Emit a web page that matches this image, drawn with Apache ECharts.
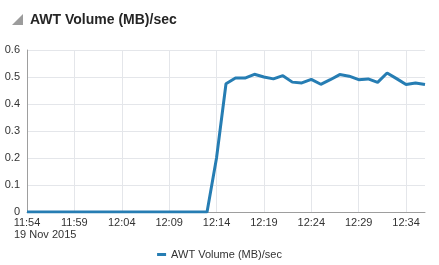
<!DOCTYPE html>
<html>
<head>
<meta charset="utf-8">
<script src="https://cdn.jsdelivr.net/npm/echarts@6/dist/echarts.min.js"></script>
<style>
html,body{margin:0;padding:0;background:#fff;}
#chart{width:439px;height:265px;}
</style>
</head>
<body>
<div id="chart"></div>
<script>
const chartTitle = 'AWT Volume (MB)/sec';
const seriesName = 'AWT Volume (MB)/sec';
const dateLabel = '19 Nov 2015';
const times = [
  '11:54','11:55','11:56','11:57','11:58','11:59','12:00','12:01','12:02','12:03',
  '12:04','12:05','12:06','12:07','12:08','12:09','12:10','12:11','12:12','12:13',
  '12:14','12:15','12:16','12:17','12:18','12:19','12:20','12:21','12:22','12:23',
  '12:24','12:25','12:26','12:27','12:28','12:29','12:30','12:31','12:32','12:33',
  '12:34','12:35','12:36'
];
const volume = [
  0,0,0,0,0,0,0,0,0,0,
  0,0,0,0,0,0,0,0,0,0,
  0.2,0.475,0.496,0.496,0.51,0.5,0.493,0.505,0.481,0.478,
  0.491,0.473,0.49,0.509,0.503,0.49,0.493,0.48,0.515,0.494,
  0.472,0.478,0.472
];
const yTicks = { min: 0, max: 0.6, interval: 0.1 };

const font = 'Liberation Sans, Arial, sans-serif';
const chart = echarts.init(document.getElementById('chart'), null, {renderer: 'canvas'});
chart.setOption({
  animation: false,
  backgroundColor: '#ffffff',
  textStyle: { fontFamily: font },
  title: {
    text: chartTitle,
    left: 30, top: 13, padding: 0,
    textStyle: { fontFamily: font, fontSize: 14, fontWeight: 'bold', color: '#252525' }
  },
  graphic: [
    { type: 'polygon', shape: { points: [[12,25],[23,25],[23,14]] }, style: { fill: '#9c9c9c' } },
    { type: 'text', left: 14, top: 229, style: { text: dateLabel, font: '11px ' + font, fill: '#333333' } }
  ],
  legend: {
    top: 249, left: 'center', padding: 0,
    icon: 'rect', itemWidth: 9, itemHeight: 3,
    textStyle: { fontFamily: font, fontSize: 11, color: '#333333' },
    data: [seriesName]
  },
  grid: { left: 27, right: 14, top: 50, bottom: 53, containLabel: false },
  xAxis: {
    type: 'category',
    data: times,
    boundaryGap: false,
    axisLine: { show: true, lineStyle: { color: '#9e9e9e', width: 1 } },
    axisTick: { show: false },
    axisLabel: { interval: 4, margin: 5, fontSize: 11, color: '#333333', fontFamily: font },
    splitLine: { show: true, interval: 4, lineStyle: { color: '#e4e6ea', width: 1 } }
  },
  yAxis: {
    type: 'value',
    min: yTicks.min, max: yTicks.max, interval: yTicks.interval,
    axisLine: { show: true, lineStyle: { color: '#9e9e9e', width: 1 } },
    axisTick: { show: false },
    axisLabel: { margin: 7, fontSize: 11, color: '#333333', fontFamily: font },
    splitLine: { show: true, lineStyle: { color: '#e4e6ea', width: 1 } }
  },
  series: [{
    name: seriesName,
    type: 'line',
    data: volume,
    showSymbol: false,
    symbol: 'none',
    itemStyle: { color: '#267db3' },
    lineStyle: { color: '#267db3', width: 3 }
  }]
});
</script>
</body>
</html>
